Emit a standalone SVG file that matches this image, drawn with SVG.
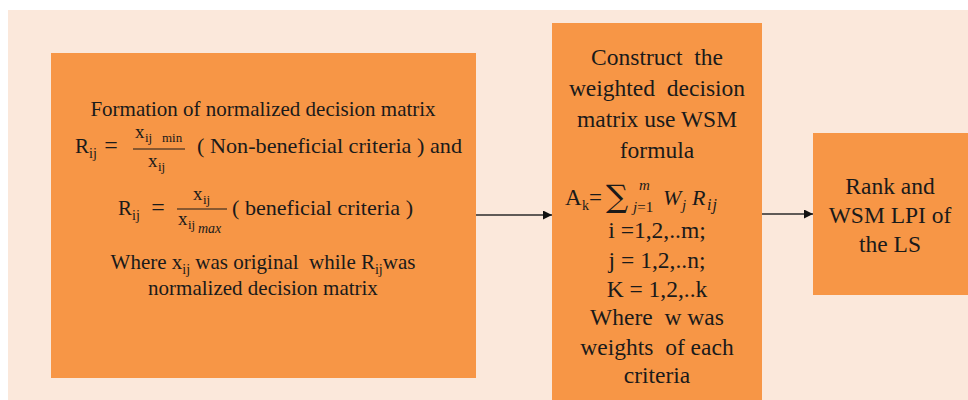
<svg xmlns="http://www.w3.org/2000/svg" width="968" height="400" viewBox="0 0 968 400">
<defs>
<style>
.box{fill:#F79646;}
.t{font-family:'Liberation Serif','DejaVu Serif',serif;fill:#1a1a1a;}
.c{text-anchor:middle;}
.m{font-family:'Liberation Serif','DejaVu Serif',serif;fill:#1a1a1a;}
.sig{font-family:'DejaVu Serif',serif;fill:#1a1a1a;}
.i{font-style:italic;}
.b2{font-size:23.5px;}
.conn{stroke:#2b2b2b;stroke-width:1.5;fill:none;}
</style>
<marker id="ah" viewBox="0 0 10 10" refX="10" refY="5" markerWidth="6" markerHeight="6" orient="auto" markerUnits="strokeWidth">
<path d="M0,0 L10,5 L0,10 z" fill="#111"/>
</marker>
</defs>
<rect x="0" y="0" width="968" height="400" fill="#ffffff"/>
<rect x="8" y="10" width="960" height="390" fill="#FBE8DB"/>

<g id="node-normalize">
<rect class="box" x="51" y="53" width="425" height="325"/>
<text class="t c" x="263" y="116" font-size="21">Formation of normalized decision matrix</text>
<text class="m" x="75" y="153" font-size="21">R</text>
<text class="m" x="89" y="158" font-size="14">ij</text>
<text class="m c" x="111" y="153" font-size="24">=</text>
<text class="m" x="135" y="138" font-size="19">x</text>
<text class="m" x="145" y="142" font-size="13">ij</text>
<text class="m" x="162" y="142" font-size="13">min</text>
<line x1="133" y1="149" x2="185" y2="149" stroke="#1a1a1a" stroke-width="1.2"/>
<text class="m" x="148" y="167" font-size="19">x</text>
<text class="m" x="158" y="171" font-size="13">ij</text>
<text class="m" x="197" y="153" font-size="21" textLength="265" lengthAdjust="spacingAndGlyphs">( Non-beneficial criteria ) and</text>

<text class="m" x="118" y="215" font-size="21">R</text>
<text class="m" x="132" y="220" font-size="14">ij</text>
<text class="m c" x="158" y="215" font-size="24">=</text>
<text class="m" x="193" y="200" font-size="19">x</text>
<text class="m" x="203" y="204" font-size="13">ij</text>
<line x1="177" y1="209" x2="227" y2="209" stroke="#1a1a1a" stroke-width="1.2"/>
<text class="m" x="178" y="225" font-size="19">x</text>
<text class="m" x="188" y="229" font-size="13">ij</text>
<text class="m i" x="198" y="233" font-size="14">max</text>
<text class="m" x="232" y="215" font-size="21" textLength="181" lengthAdjust="spacingAndGlyphs">( beneficial criteria )</text>

<text class="t c" x="263" y="269" font-size="21" xml:space="preserve">Where x<tspan font-size="14" dy="5">ij</tspan><tspan dy="-5"> was original  while R</tspan><tspan font-size="14" dy="5">ij</tspan><tspan dy="-5">was</tspan></text>
<text class="t c" x="263" y="295" font-size="21">normalized decision matrix</text>
</g>

<g id="node-weighted">
<rect class="box" x="552" y="23" width="210" height="377"/>
<text class="t c b2" x="657" y="65" xml:space="preserve">Construct  the</text>
<text class="t c b2" x="657" y="96" xml:space="preserve">weighted  decision</text>
<text class="t c b2" x="657" y="127">matrix use WSM</text>
<text class="t c b2" x="657" y="158">formula</text>
<text class="t" x="565" y="205" font-size="23">A</text>
<text class="t" x="582" y="210" font-size="14">k</text>
<text class="m" x="589" y="205" font-size="23">=</text>
<text class="sig" x="606" y="207" font-size="31">∑</text>
<text class="m i" x="639" y="190" font-size="15">m</text>
<text class="m" x="633" y="212" font-size="15"><tspan font-style="italic">j</tspan>=1</text>
<text class="m i" x="663" y="205" font-size="22">W</text>
<text class="m i" x="682" y="210" font-size="15">j</text>
<text class="m i" x="692" y="205" font-size="22">R</text>
<text class="m i" x="707" y="210" font-size="16" letter-spacing="1">ij</text>
<text class="t c b2" x="657" y="238">i =1,2,..m;</text>
<text class="t c b2" x="657" y="268">j = 1,2,..n;</text>
<text class="t c b2" x="657" y="297">K = 1,2,..k</text>
<text class="t c b2" x="657" y="325" xml:space="preserve">Where  w was</text>
<text class="t c b2" x="657" y="355" xml:space="preserve">weights  of each</text>
<text class="t c b2" x="657" y="383">criteria</text>
</g>

<g id="node-rank">
<rect class="box" x="813" y="133" width="155" height="162"/>
<text class="t c b2" x="890" y="194">Rank and</text>
<text class="t c b2" x="890" y="223">WSM LPI of</text>
<text class="t c b2" x="890" y="252">the LS</text>
</g>

<g id="connectors">
<line class="conn" x1="476" y1="215" x2="552" y2="215" marker-end="url(#ah)"/>
<line class="conn" x1="762" y1="214" x2="813" y2="214" marker-end="url(#ah)"/>
</g>
</svg>
